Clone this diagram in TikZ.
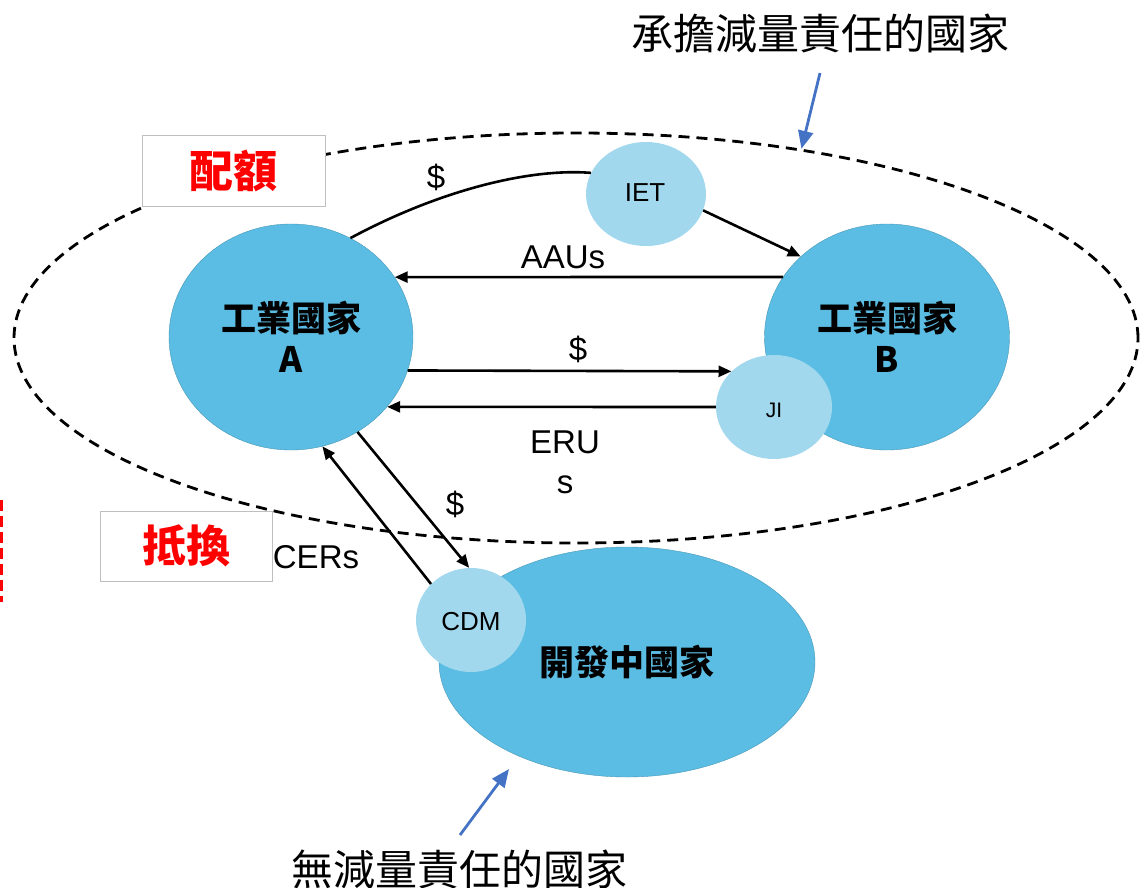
\documentclass[tikz,border=0pt]{standalone}
\usepackage{fontspec}
\setmainfont{Liberation Sans}
\newfontfamily\cjk{Noto Sans CJK TC}
\usetikzlibrary{shapes.geometric,arrows.meta}
\definecolor{bigblue}{HTML}{5BBDE3}
\definecolor{smallblue}{HTML}{A2D8EE}
\definecolor{arrowblue}{HTML}{4472C4}
\definecolor{boxgrey}{HTML}{BFBFBF}
\begin{document}
\begin{tikzpicture}[x=1pt,y=-1pt,
  big/.style={ellipse,fill=bigblue,draw=bigblue!80!black,line width=0.4pt,inner sep=0pt,align=center,
    font=\cjk\bfseries\fontsize{35}{41}\selectfont},
  small/.style={ellipse,fill=smallblue,inner sep=0pt},
  flow/.style={line width=2.6pt,-{Triangle[length=13pt,width=11pt]}},
  plainline/.style={line width=2.6pt},
  lbl/.style={inner sep=0pt,font=\fontsize{33}{33}\selectfont},
  tag/.style={draw=boxgrey,line width=1pt,fill=white,minimum width=183pt,minimum height=70pt,inner sep=0pt,
    text=red,font=\cjk\bfseries\fontsize{44}{44}\selectfont},
  note/.style={inner sep=0pt,font=\cjk\fontsize{42}{42}\selectfont},
  pointer/.style={arrowblue,line width=2.8pt,-{Triangle[length=18pt,width=15pt]}}
]
\useasboundingbox (0,0) rectangle (1140,888);

% zone of countries with reduction duty
\node[ellipse,draw,line width=2.8pt,dash pattern=on 11pt off 7pt,minimum width=1124pt,minimum height=410pt,inner sep=0pt] (zone) at (576,338) {};

% red dashed mark at the left edge
\draw[red,line width=3pt,dash pattern=on 11pt off 5pt] (1,500) -- (1,602);

% tags
\node[tag] (quota) at (233.5,171) {配額};
\node[tag,minimum width=172pt] (offset) at (186,546) {抵換};

% countries
\node[big,minimum width=244pt,minimum height=226pt] (A) at (291,337) {工業國家\\A};
\node[big,minimum width=245pt,minimum height=226pt] (B) at (887,337) {工業國家\\B};
\node[big,minimum width=376pt,minimum height=230pt] (D) at (627,662) {開發中國家};

% mechanisms
\node[small,minimum width=120pt,minimum height=104pt] (IET) at (646,194) {};
\node[small,minimum width=116pt,minimum height=104pt] (JI) at (774,407) {};
\node[small,minimum width=110pt,minimum height=104pt] (CDM) at (471,620) {};
\node[inner sep=0pt,font=\fontsize{26}{26}\selectfont] (IETt) at (645,193) {IET};
\node[inner sep=0pt,font=\fontsize{21}{21}\selectfont] (JIt) at (774,410) {JI};
\node[inner sep=0pt,font=\fontsize{26}{26}\selectfont] (CDMt) at (471,622) {CDM};

% connectors
\draw[plainline] (A.59.5) .. controls (440,190) and (530,168) .. (IET.159);
\draw[flow] (IET.-16) -- (B.137.4);
\draw[flow] (B.150) -- (A.30.2);
\draw[flow] (A.-16.8) -- (JI.140.9);
\draw[flow] (JI.west) -- (A.-36.2);
\draw[flow] (A.-55) -- (CDM.92);
\draw[flow] (CDM.138) -- (A.-74);

% labels
\node[lbl] (d1) at (436,177) {\$};
\node[lbl] (aau) at (563,257) {AAUs};
\node[lbl] (d2) at (578,349) {\$};
\node[lbl] (eru) at (565,442) {ERU};
\node[lbl] (erus) at (565,485) {s};
\node[lbl] (d3) at (455,504) {\$};
\node[lbl] (cer) at (316,557) {CERs};

% notes
\node[note] (n1) at (820,33) {承擔減量責任的國家};
\node[note] (n2) at (459,869) {無減量責任的國家};
\coordinate (n1tail) at (820,73);
\coordinate (n2tail) at (460,835);
\coordinate (n2tip) at (509,769);
\draw[pointer] (n1tail) -- (zone.40.3);
\draw[pointer] (n2tail) -- (n2tip);
\end{tikzpicture}
\end{document}
